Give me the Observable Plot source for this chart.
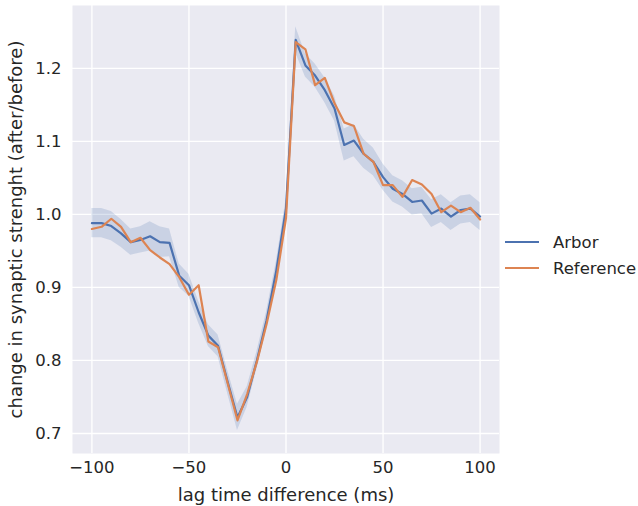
<!DOCTYPE html>
<html>
<head>
<meta charset="utf-8">
<script src="https://cdn.jsdelivr.net/npm/d3@7"></script>
<script src="https://cdn.jsdelivr.net/npm/@observablehq/plot@0.6"></script>
<style>
  body { margin: 0; background: #fff; font-family: "DejaVu Sans", sans-serif; }
  #wrap { position: relative; width: 638px; height: 506px; }
  #legend { position: absolute; left: 505px; top: 229px; font-size: 16.5px; color: #262626; }
  .item { display: flex; align-items: center; height: 26px; }
  .sw { width: 34px; height: 2.2px; margin-right: 14px; }
</style>
</head>
<body>
<div id="wrap"></div>
<script>
const lag = [-100, -95, -90, -85, -80, -75, -70, -65, -60, -55,
             -50, -45, -40, -35, -30, -25, -20, -15, -10, -5,
             0,
             5, 10, 15, 20, 25, 30, 35, 40, 45, 50,
             55, 60, 65, 70, 75, 80, 85, 90, 95, 100];
const arbor = [0.988, 0.988, 0.984, 0.974, 0.962, 0.965, 0.970, 0.962, 0.961, 0.916,
               0.903, 0.866, 0.834, 0.820, 0.770, 0.722, 0.750, 0.800, 0.855, 0.923,
               1.008,
               1.239, 1.204, 1.190, 1.170, 1.145, 1.095, 1.101, 1.083, 1.072, 1.051,
               1.035, 1.028, 1.017, 1.019, 1.001, 1.008, 0.997, 1.006, 1.008, 0.997];
const arborCI = [0.020, 0.020, 0.020, 0.019, 0.018, 0.018, 0.020, 0.021, 0.019, 0.016,
                 0.015, 0.015, 0.015, 0.015, 0.016, 0.018, 0.014, 0.012, 0.012, 0.012,
                 0.012,
                 0.018, 0.016, 0.016, 0.017, 0.017, 0.022, 0.022, 0.020, 0.019, 0.018,
                 0.018, 0.018, 0.018, 0.018, 0.019, 0.019, 0.019, 0.019, 0.019, 0.019];
const reference = [0.980, 0.983, 0.994, 0.983, 0.962, 0.968, 0.951, 0.941, 0.932, 0.914,
                   0.890, 0.903, 0.826, 0.818, 0.768, 0.718, 0.754, 0.798, 0.850, 0.910,
                   0.995,
                   1.236, 1.226, 1.177, 1.187, 1.152, 1.126, 1.121, 1.083, 1.072, 1.040,
                   1.040, 1.024, 1.047, 1.041, 1.028, 1.003, 1.012, 1.003, 1.009, 0.993];
const seriesNames = ["Arbor", "Reference"];
const seriesColors = ["#4c72b0", "#dd8452"];
const xTicks = [-100, -50, 0, 50, 100];
const yTicks = [0.7, 0.8, 0.9, 1.0, 1.1, 1.2];

const arborRows = lag.map((x, i) => ({x, y: arbor[i], lo: arbor[i] - arborCI[i], hi: arbor[i] + arborCI[i]}));
const refRows = lag.map((x, i) => ({x, y: reference[i]}));
const fmtX = d => d < 0 ? "\u2212" + Math.abs(d) : String(d);

const chart = Plot.plot({
  width: 638,
  height: 506,
  marginLeft: 72,
  marginRight: 139,
  marginTop: 5,
  marginBottom: 53,
  style: {fontFamily: "DejaVu Sans, sans-serif", fontSize: "16.5px", color: "#262626", background: "#fff"},
  x: {domain: [-110, 110]},
  y: {domain: [0.6726, 1.286]},
  marks: [
    Plot.frame({fill: "#eaeaf2", stroke: null}),
    Plot.gridX(xTicks, {stroke: "#fff", strokeOpacity: 1, strokeWidth: 1.3}),
    Plot.gridY(yTicks, {stroke: "#fff", strokeOpacity: 1, strokeWidth: 1.3}),
    Plot.areaY(arborRows, {x: "x", y1: "lo", y2: "hi", fill: seriesColors[0], fillOpacity: 0.2}),
    Plot.lineY(arborRows, {x: "x", y: "y", stroke: seriesColors[0], strokeWidth: 2.2}),
    Plot.lineY(refRows, {x: "x", y: "y", stroke: seriesColors[1], strokeWidth: 2.2}),
    Plot.axisX({ticks: xTicks, tickSize: 0, tickPadding: 8, fontSize: 16.5, tickFormat: fmtX,
      label: "lag time difference (ms)", labelAnchor: "center", labelArrow: "none", labelOffset: 47}),
    Plot.axisY({ticks: yTicks, tickSize: 0, tickPadding: 11, fontSize: 16.5, tickFormat: d => d.toFixed(1),
      label: "change in synaptic strenght (after/before)", labelAnchor: "center", labelArrow: "none", labelOffset: 63})
  ]
});
chart.querySelectorAll('[aria-label="x-axis label"] text, [aria-label="y-axis label"] text').forEach(t => t.style.fontSize = "18px");
const wrap = document.getElementById("wrap");
wrap.appendChild(chart);
const legend = document.createElement("div");
legend.id = "legend";
seriesNames.forEach((name, i) => {
  const item = document.createElement("div");
  item.className = "item";
  const sw = document.createElement("div");
  sw.className = "sw";
  sw.style.background = seriesColors[i];
  const label = document.createElement("span");
  label.textContent = name;
  item.appendChild(sw);
  item.appendChild(label);
  legend.appendChild(item);
});
wrap.appendChild(legend);
</script>
</body>
</html>
